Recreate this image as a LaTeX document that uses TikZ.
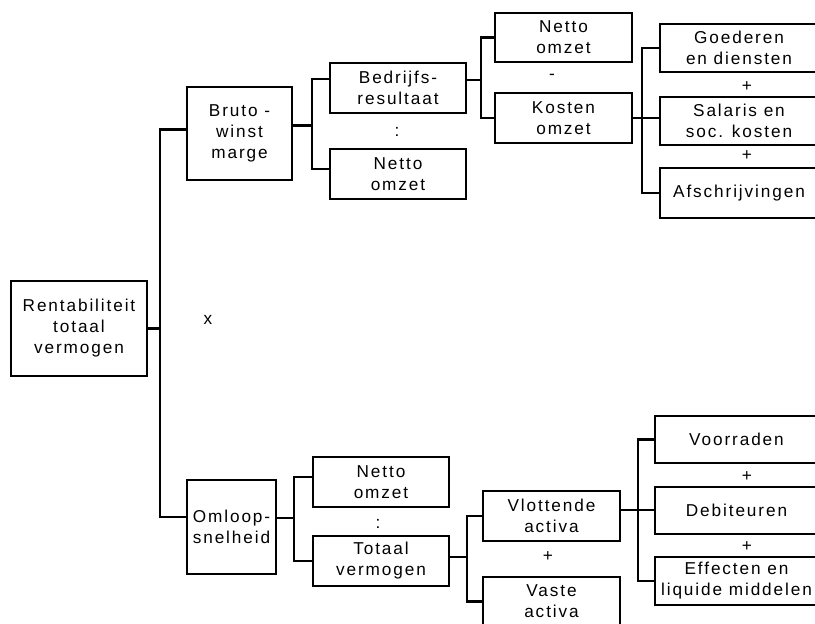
\documentclass[tikz,border=0pt]{standalone}
\usepackage{fontspec}
\setmainfont[LetterSpace=11]{Liberation Sans}
\usetikzlibrary{calc}
\begin{document}
\begin{tikzpicture}[x=1pt,y=-1pt,
  box/.style={draw=black,line width=2.1pt,rectangle,inner sep=0pt,align=center,
    font=\fontsize{17.2}{21}\selectfont},
  conn/.style={draw=black,line width=2.1pt,line cap=rect},
  lbl/.style={inner sep=0pt,font=\fontsize{17.2}{21}\selectfont}]
\clip (0,0) rectangle (815,624);
% boxes
\node[box,minimum width=136,minimum height=95] (rent) at (79,328.5) {Rentabiliteit\\totaal\\vermogen};
\node[box,minimum width=105,minimum height=93] (bruto) at (239.5,133.5) {Bruto -\\winst\\marge};
\node[box,minimum width=89,minimum height=94] (omloop) at (231.5,527) {Omloop-\\snelheid};
\node[box,minimum width=136,minimum height=50] (bedrijf) at (398,88) {Bedrijfs-\\resultaat};
\node[box,minimum width=136,minimum height=50] (nettoA) at (398,174) {Netto\\omzet};
\node[box,minimum width=137,minimum height=49] (nettoB) at (563.5,37.5) {Netto\\omzet};
\node[box,minimum width=137,minimum height=50] (kosten) at (563.5,118) {Kosten\\omzet};
\node[box,minimum width=158,minimum height=48] (goed) at (739,48) {Goederen\\en diensten};
\node[box,minimum width=158,minimum height=48] (sal) at (739,121) {Salaris en\\soc. kosten};
\node[box,minimum width=158,minimum height=50] (afs) at (739,193) {Afschrijvingen};
\node[box,minimum width=136,minimum height=50] (nettoC) at (381,482) {Netto\\omzet};
\node[box,minimum width=136,minimum height=50] (totaal) at (381,561) {Totaal\\vermogen};
\node[box,minimum width=137,minimum height=50] (vlot) at (551.5,516) {Vlottende\\activa};
\node[box,minimum width=137,minimum height=49] (vaste) at (551.5,601.5) {Vaste\\activa};
\node[box,minimum width=163,minimum height=47] (voor) at (736.5,439.5) {Voorraden};
\node[box,minimum width=163,minimum height=47] (deb) at (736.5,510.5) {Debiteuren};
\node[box,minimum width=163,minimum height=48] (eff) at (736.5,581) {Effecten en\\liquide middelen};
% operator labels
\node[lbl] (opx) at (208,320) {x};
\node[lbl] (op1) at (397,132) {:};
\node[lbl] (op2) at (552,77) {-};
\node[lbl] (op3) at (747,87) {+};
\node[lbl] (op4) at (747,156) {+};
\node[lbl] (op5) at (378,524) {:};
\node[lbl] (op6) at (548,557) {+};
\node[lbl] (op7) at (747,477) {+};
\node[lbl] (op8) at (747,547) {+};
% bus coordinates
\coordinate (t0) at (160,0);
\coordinate (x1) at (312,0);
\coordinate (x2) at (481,0);
\coordinate (x3) at (642,0);
\coordinate (x4) at (294,0);
\coordinate (x5) at (467,0);
\coordinate (x6) at (638,0);
% trunk
\coordinate (bw) at ($(bruto.west)+(0,-4)$);
\coordinate (ow) at ($(omloop.west)+(0,-10)$);
\draw[conn] (rent.east) -- (rent.east -| t0);
\draw[conn] (bw) -- (bw -| t0) -- (ow -| t0) -- (ow);
% bruto
\coordinate (be) at ($(bruto.east)+(0,-8)$);
\coordinate (bdw) at ($(bedrijf.west)+(0,-9)$);
\coordinate (naw) at ($(nettoA.west)+(0,-5)$);
\draw[conn] (be) -- (be -| x1);
\draw[conn] (bdw) -- (bdw -| x1) -- (naw -| x1) -- (naw);
% bedrijfsresultaat
\coordinate (bde) at ($(bedrijf.east)+(0,-8)$);
\draw[conn] (bde) -- (bde -| x2);
\draw[conn] (nettoB.west) -- (nettoB.west -| x2) -- (kosten.west -| x2) -- (kosten.west);
% kosten
\draw[conn] (kosten.east) -- (kosten.east -| sal.west);
\draw[conn] (goed.west) -- (goed.west -| x3) -- (afs.west -| x3) -- (afs.west);
% omloop
\coordinate (oe) at ($(omloop.east)+(0,-9)$);
\coordinate (ncw) at ($(nettoC.west)+(0,-5)$);
\draw[conn] (oe) -- (oe -| x4);
\draw[conn] (ncw) -- (ncw -| x4) -- (totaal.west -| x4) -- (totaal.west);
% totaal
\coordinate (te) at ($(totaal.east)+(0,-4)$);
\draw[conn] (te) -- (te -| x5);
\draw[conn] (vlot.west) -- (vlot.west -| x5) -- (vaste.west -| x5) -- (vaste.west);
% vlottende
\coordinate (ve) at ($(vlot.east)+(0,-6)$);
\draw[conn] (ve) -- (ve -| deb.west);
\draw[conn] (voor.west) -- (voor.west -| x6) -- (eff.west -| x6) -- (eff.west);
\end{tikzpicture}
\end{document}
